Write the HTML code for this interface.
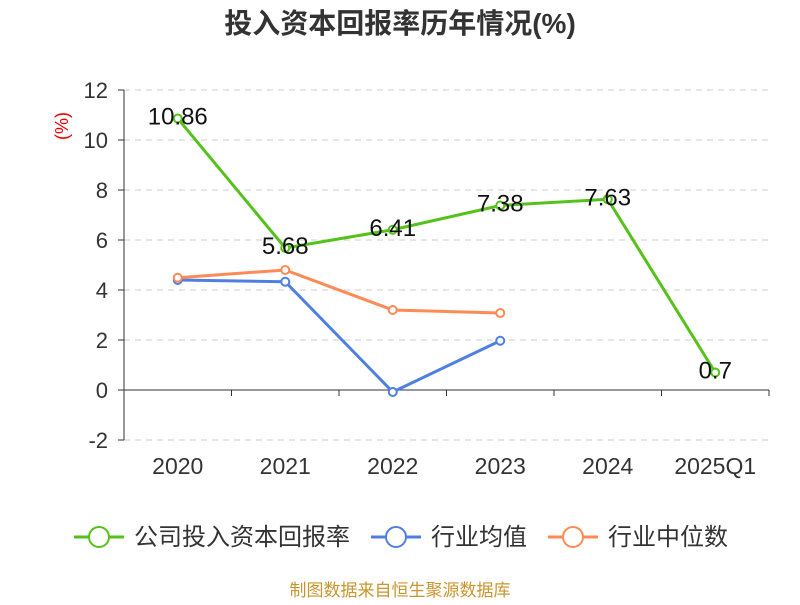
<!DOCTYPE html>
<html><head><meta charset="utf-8"><style>
body{margin:0;background:#fff;font-family:"Liberation Sans","Noto Sans CJK SC",sans-serif;}
</style></head><body>
<svg id="c" width="800" height="600" xmlns="http://www.w3.org/2000/svg" font-family="Liberation Sans, Noto Sans CJK SC, sans-serif">
<text x="400" y="33" text-anchor="middle" font-size="28" font-weight="bold" fill="#333">投入资本回报率历年情况(%)</text>
<text x="68" y="126" text-anchor="middle" font-size="18" fill="#e00" transform="rotate(-90 68 126)">(%)</text>
<g id="grid"></g><g id="axes"></g><g id="series"></g>
<g id="legend" fill="#333"></g>
<text x="400" y="596" text-anchor="middle" font-size="17" fill="#c8962e">制图数据来自恒生聚源数据库</text>
</svg>
<script>
const categories=["2020","2021","2022","2023","2024","2025Q1"];
const companyValues=[10.86,5.68,6.41,7.38,7.63,0.7];
const industryAvg=[4.4,4.33,-0.08,1.97];
const industryMedian=[4.49,4.8,3.2,3.08];
const yTicks=[-2,0,2,4,6,8,10,12];
const NS="http://www.w3.org/2000/svg";
const L=124,R=769,T=90,B=440;
const yMin=-2,yMax=12;
const y=v=>B-(v-yMin)/(yMax-yMin)*(B-T);
const bw=(R-L)/categories.length;
const x=i=>L+bw*(i+0.5);
function mk(tag,attrs,parent){const e=document.createElementNS(NS,tag);for(const k in attrs)e.setAttribute(k,attrs[k]);document.getElementById(parent).appendChild(e);return e;}
yTicks.forEach(t=>{
 if(t!==0){const g=mk('line',{x1:L,x2:R,y1:y(t),y2:y(t),stroke:'#ccc','stroke-dasharray':'6,5'},'grid');
 
 }
 const tk=mk('line',{x1:L-6,x2:L,y1:y(t),y2:y(t),stroke:'#333'},'axes');
 
 
 const lb=mk('text',{x:108,y:y(t)+8,'text-anchor':'end','font-size':22,fill:'#333'},'axes');lb.textContent=t;
 
 
});
const ya=mk('line',{x1:L,x2:L,y1:T,y2:B,stroke:'#333'},'axes');


const xa=mk('line',{x1:L,x2:R,y1:y(0),y2:y(0),stroke:'#333'},'axes');


for(let i=0;i<=categories.length;i++){const tk=mk('line',{x1:L+bw*i,x2:L+bw*i,y1:y(0),y2:y(0)+6,stroke:'#333'},'axes');
 
 }
categories.forEach((c,i)=>{const lb=mk('text',{x:x(i),y:474,'text-anchor':'middle','font-size':23,fill:'#333'},'axes');lb.textContent=c;
 
 });
function series(vals,color,name,labels){
 const pts=vals.map((v,i)=>x(i)+','+y(v)).join(' ');
 const pl=mk('polyline',{points:pts,fill:'none',stroke:color,'stroke-width':3},'series');
 
 
 vals.forEach((v,i)=>{const c=mk('circle',{cx:x(i),cy:y(v),r:4,fill:'#fff',stroke:color,'stroke-width':2},'series');
  
  
  if(labels){const t=mk('text',{x:x(i),y:y(v)+6,'text-anchor':'middle','font-size':24,fill:'#111'},'series');t.textContent=v;
   
   }
 });
}
series(industryAvg,'#4f80e1','industry-average',false);
series(industryMedian,'#ff8a55','industry-median',false);
series(companyValues,'#55c21b','company-roic',true);
const leg=[["公司投入资本回报率",'#55c21b',74],["行业均值",'#4f80e1',371],["行业中位数",'#ff8a55',548]];
leg.forEach(([n,c,lx])=>{
 const g=mk('g',{},'legend');
 
 
 g.innerHTML=`<line x1="${lx}" x2="${lx+50}" y1="537" y2="537" stroke="${c}" stroke-width="3"/><circle cx="${lx+25}" cy="537" r="10" fill="#fff" stroke="${c}" stroke-width="2"/><text x="${lx+60}" y="545" font-size="24" fill="#333">${n}</text>`;
});
</script>
</body></html>
